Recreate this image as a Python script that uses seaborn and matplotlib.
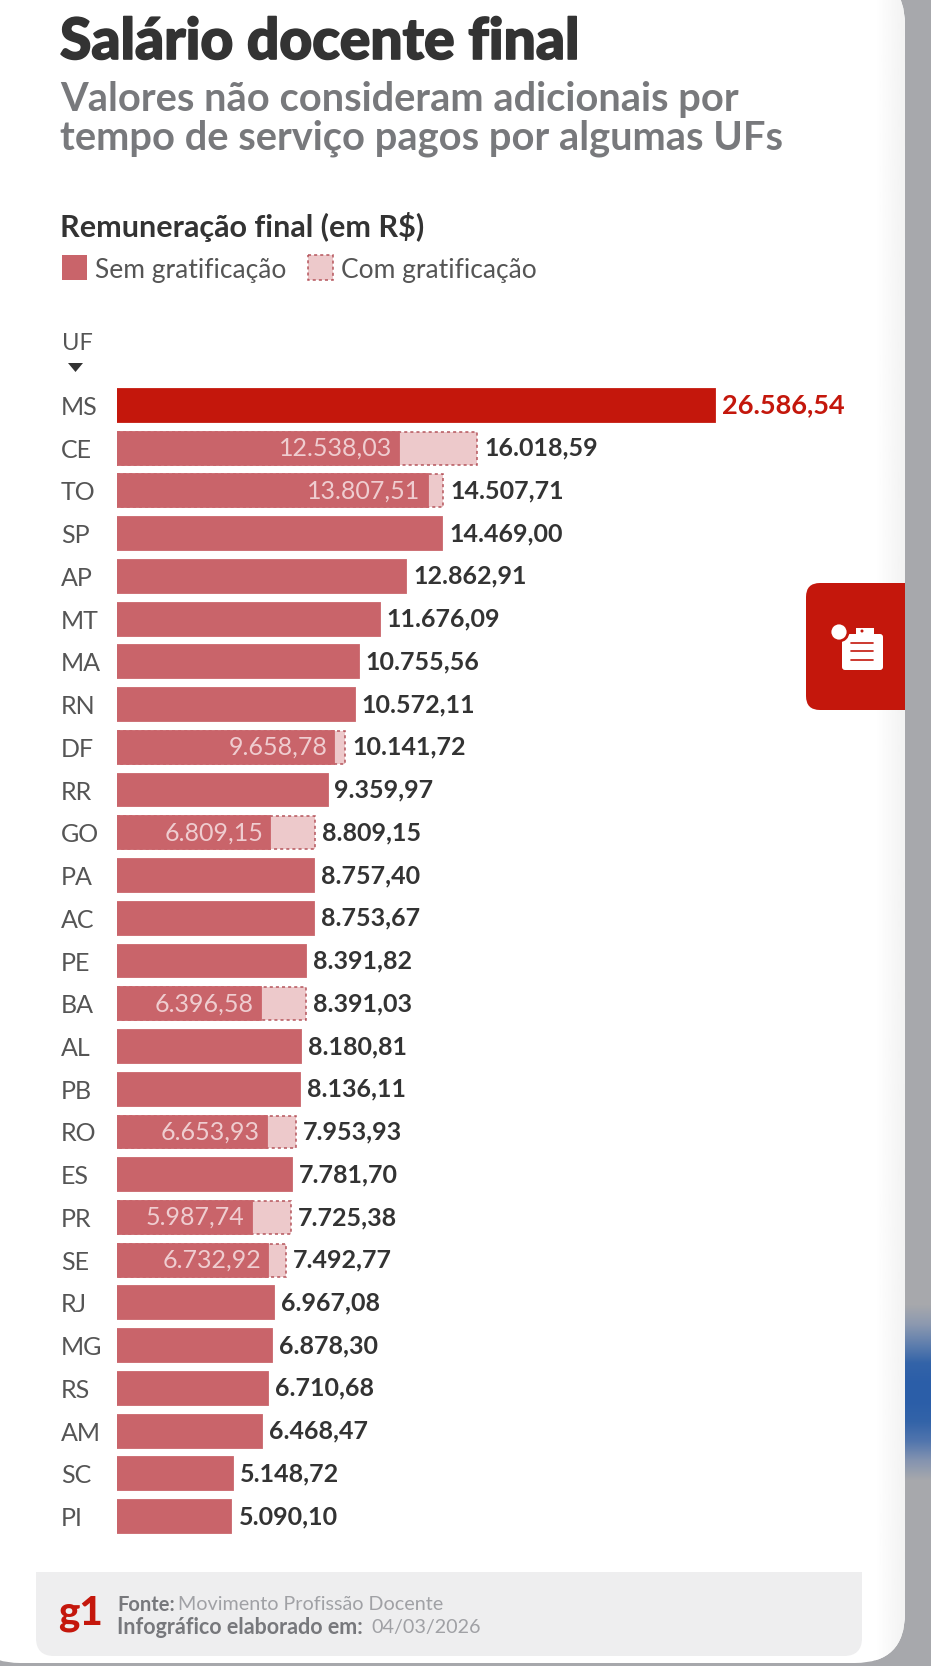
import numpy as np
import pandas as pd
import matplotlib
matplotlib.use('Agg')
import matplotlib.pyplot as plt
import matplotlib.patheffects as pe
from matplotlib.patches import FancyBboxPatch, Rectangle, Polygon, Circle
import seaborn as sns

# data
uf = ['MS', 'CE', 'TO', 'SP', 'AP', 'MT', 'MA', 'RN', 'DF', 'RR', 'GO', 'PA', 'AC', 'PE',
      'BA', 'AL', 'PB', 'RO', 'ES', 'PR', 'SE', 'RJ', 'MG', 'RS', 'AM', 'SC', 'PI']
final = [26586.54, 16018.59, 14507.71, 14469.00, 12862.91, 11676.09, 10755.56, 10572.11, 10141.72,
         9359.97, 8809.15, 8757.40, 8753.67, 8391.82, 8391.03, 8180.81, 8136.11, 7953.93, 7781.70,
         7725.38, 7492.77, 6967.08, 6878.30, 6710.68, 6468.47, 5148.72, 5090.10]
sem_grat = [26586.54, 12538.03, 13807.51, 14469.00, 12862.91, 11676.09, 10755.56, 10572.11, 9658.78,
            9359.97, 6809.15, 8757.40, 8753.67, 8391.82, 6396.58, 8180.81, 8136.11, 6653.93, 7781.70,
            5987.74, 6732.92, 6967.08, 6878.30, 6710.68, 6468.47, 5148.72, 5090.10]

RED = '#c4170c'
BAR = '#c9646a'
LIGHT = '#edc9cb'
DARK = '#333333'
GRAY_BG = '#a7a8ac'
W, H = 931, 1666


def fmt(v):
    return f'{v:,.2f}'.replace(',', 'X').replace('.', ',').replace('X', '.')


df = pd.DataFrame({'uf': uf, 'final': final, 'sem_grat': sem_grat})
com = df[df['final'] > df['sem_grat']]

sns.set_theme(style='white')
plt.rcParams['font.family'] = ['Lato', 'DejaVu Sans']

fig = plt.figure(figsize=(W / 100, H / 100), dpi=100, facecolor=GRAY_BG)

# page decoration, in pixels
bg = fig.add_axes([0, 0, 1, 1], zorder=0)
g = [0.655, 0.66, 0.675]
strip = np.array([g, [0.55, 0.60, 0.69], [0.38, 0.50, 0.68], [0.20, 0.39, 0.66], [0.17, 0.37, 0.66],
                  [0.17, 0.37, 0.66], [0.20, 0.39, 0.66], [0.32, 0.46, 0.68], [0.52, 0.58, 0.69], g])
bg.imshow(strip[:, None, :], extent=(895, W, 1490, 1295), aspect='auto', interpolation='bilinear', zorder=1)
bg.set_xlim(0, W)
bg.set_ylim(H, 0)
bg.axis('off')
card = FancyBboxPatch((-30, -25), 935, 1688, boxstyle='round,pad=0,rounding_size=50',
                      fc='white', ec='none', zorder=2)
bg.add_patch(card)
# soft shade along the card's right edge
shade = np.linspace(1.0, 0.95, 20)[None, :]
im = bg.imshow(shade, extent=(875, 905, 1666, 0), aspect='auto', cmap='gray', vmin=0, vmax=1, zorder=2.1)
im.set_clip_path(card)
bg.set_xlim(0, W)
bg.set_ylim(H, 0)
bg.add_patch(FancyBboxPatch((36, 1572), 826, 84, boxstyle='round,pad=0,rounding_size=18',
                            fc='#eeeeef', ec='none', zorder=3))
bg.add_patch(Rectangle((36, 1572), 826, 24, fc='#eeeeef', ec='none', zorder=3))

# side button
bg.add_patch(FancyBboxPatch((806, 583), 140, 127, boxstyle='round,pad=0,rounding_size=14',
                            fc=RED, ec='none', zorder=3))
bg.add_patch(Rectangle((905, 570), 40, 150, fc=GRAY_BG, ec='none', zorder=3.5))
bg.add_patch(FancyBboxPatch((842, 634), 41, 36, boxstyle='round,pad=0,rounding_size=3', fc='white', ec='none', zorder=4))
bg.add_patch(Rectangle((856, 628), 18, 8, fc='white', ec='none', zorder=4))
bg.add_patch(Circle((839, 632), 9, fc='white', ec=RED, lw=2, zorder=5))
bg.add_patch(Circle((862, 631), 1.5, fc=RED, ec='none', zorder=5))
for yy in [643, 651, 660]:
    bg.plot([851, 873], [yy, yy], color=RED, lw=1.2, zorder=5)

# titles
bg.text(60, 59, 'Salário docente final', fontsize=41, fontweight='black', color='#333333', va='baseline', zorder=5,
        path_effects=[pe.withStroke(linewidth=1.2, foreground='#333333')])
bg.text(60, 110.7, 'Valores não consideram adicionais por', fontsize=28.7, fontweight='bold', color='#78797c', va='baseline', zorder=5)
bg.text(60, 149, 'tempo de serviço pagos por algumas UFs', fontsize=28.7, fontweight='bold', color='#78797c', va='baseline', zorder=5)
bg.text(60, 227, 'Remuneração final (em R$)', fontsize=22, fontweight='bold', color=DARK, va='center', zorder=5)

# legend
bg.add_patch(Rectangle((62, 255), 25, 25, fc=BAR, ec='none', zorder=5))
bg.text(95, 270, 'Sem gratificação', fontsize=19, color='#555555', va='center', zorder=5)
bg.add_patch(Rectangle((308, 255), 25, 25, fc=LIGHT, ec='#b5555c', lw=1.1, ls=(0, (2, 2)), zorder=5))
bg.text(341, 270, 'Com gratificação', fontsize=19, color='#555555', va='center', zorder=5)

# axis head
bg.text(62, 343, 'UF', fontsize=17, color='#555555', va='center', zorder=5)
bg.add_patch(Polygon([[68, 363], [83, 363], [75.5, 372]], fc=DARK, ec='none', zorder=5))

# footer
bg.text(58, 1613, 'g1', fontsize=29, fontweight='black', color=RED, va='center', zorder=5)
bg.text(117, 1605, 'Fonte:', fontsize=14.5, fontweight='bold', color='#77787c', va='center', zorder=5)
bg.text(178, 1605, 'Movimento Profissão Docente', fontsize=14.2, color='#a0a1a5', va='center', zorder=5)
bg.text(117, 1627, 'Infográfico elaborado em:', fontsize=15.5, fontweight='bold', color='#77787c', va='center', zorder=5)
bg.text(371, 1627, '04/03/2026', fontsize=14.2, color='#a0a1a5', va='center', zorder=5)

# chart
left, right, top, bottom = 117, 900, 384, 1538
ax = fig.add_axes([left / W, 1 - bottom / H, (right - left) / W, (bottom - top) / H], zorder=1)
ax.patch.set_alpha(0)

sns.barplot(data=com, y='uf', x='final', order=uf, color=LIGHT, width=0.77, saturation=1,
            orient='h', ax=ax, edgecolor='#b5555c', linewidth=1.1, linestyle=(0, (2, 2)))
palette = [RED if u == 'MS' else BAR for u in uf]
sns.barplot(data=df, y='uf', x='sem_grat', hue='uf', order=uf, palette=palette, legend=False,
            width=0.77, saturation=1, orient='h', ax=ax)
# solid bars get an edge of their own colour, so the dashes only show on the light part
for cont in ax.containers[1:]:
    for p in cont:
        p.set_edgecolor(p.get_facecolor())
        p.set_linewidth(1.3)

ax.set_xlim(0, (right - left) / (598 / 26586.54))
ax.set_ylim(26.5, -0.5)
ax.set_xlabel('')
ax.set_ylabel('')
ax.set_xticks([])
sns.despine(ax=ax, left=True, bottom=True)
ax.tick_params(axis='y', length=0, pad=40.5, labelsize=18, labelcolor='#555555')
for lab in ax.get_yticklabels():
    lab.set_ha('left')

for i, row in df.iterrows():
    is_ms = row['uf'] == 'MS'
    ax.annotate(fmt(row['final']), (row['final'], i), xytext=(5, 0), textcoords='offset points',
                va='center', ha='left', fontsize=19.5 if is_ms else 18, fontweight='bold',
                color=RED if is_ms else DARK)
    if row['final'] > row['sem_grat']:
        ax.annotate(fmt(row['sem_grat']), (row['sem_grat'], i), xytext=(-5, 0), textcoords='offset points',
                    va='center', ha='right', fontsize=18, color='#efcdd0')

fig.savefig('out.png', dpi=100, facecolor=fig.get_facecolor())
